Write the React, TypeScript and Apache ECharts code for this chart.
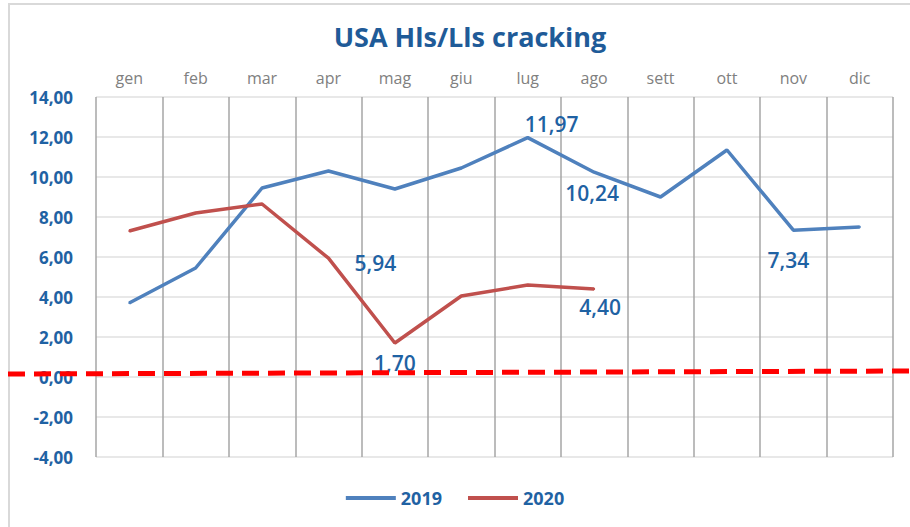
import React, { useEffect, useRef } from "react";
import * as echarts from "echarts";

const months = ["gen", "feb", "mar", "apr", "mag", "giu", "lug", "ago", "sett", "ott", "nov", "dic"];
const values2019 = [3.7, 5.45, 9.45, 10.3, 9.4, 10.45, 11.97, 10.24, 9.0, 11.35, 7.34, 7.5];
const values2020 = [7.3, 8.2, 8.65, 5.94, 1.7, 4.05, 4.6, 4.4];
// label index -> offset
const labels2019: Record<number, [number, number]> = { 6: [24, -14], 7: [-2, 21], 10: [-5, 30] };
const labels2020: Record<number, [number, number]> = { 3: [47, 5], 4: [0, 20], 7: [6, 18] };
const yTicks = { min: -4, max: 14, interval: 2 };
const refLineValues = [0.15, 0.3];

const FONT = "'Open Sans', 'Noto Sans', sans-serif";
const LABEL_BLUE = "#1f62a3";

function fmt(v: number) {
  return v.toFixed(2).replace(".", ",");
}

function buildData(vals: number[], lbls: Record<number, [number, number]>) {
  return vals.map((v, i) => {
    const off = lbls[i];
    if (!off) return { value: v };
    return {
      value: v,
      label: {
        show: true,
        position: "inside",
        offset: off,
        formatter: () => fmt(v),
        color: LABEL_BLUE,
        fontSize: 21,
        fontFamily: FONT,
        fontWeight: 600,
      },
    };
  });
}

export default function App() {
  const ref = useRef<HTMLDivElement>(null);
  useEffect(() => {
    document.body.style.margin = "0";
    if (!ref.current) return;
    const chart = echarts.init(ref.current, null, { renderer: "svg" });
    chart.setOption({
      animation: false,
      backgroundColor: "#ffffff",
      title: {
        text: "USA Hls/Lls cracking",
        left: 465,
        top: 18,
        textAlign: "center",
        textStyle: { color: "#1f5b98", fontSize: 27, fontWeight: "bold", fontFamily: FONT },
      },
      grid: { left: 96, right: 17, top: 97, bottom: 70 },
      legend: {
        bottom: 15,
        left: "center",
        icon: "rect",
        itemWidth: 50,
        itemHeight: 4,
        itemGap: 26,
        textStyle: { color: LABEL_BLUE, fontSize: 18, fontWeight: "bold", fontFamily: FONT },
        data: ["2019", "2020"],
      },
      xAxis: {
        type: "category",
        position: "top",
        data: months,
        boundaryGap: true,
        axisLine: { show: false },
        axisTick: { show: false },
        axisLabel: { color: "#808080", fontSize: 16, fontFamily: FONT, margin: 11 },
        splitLine: { show: true, lineStyle: { color: "#a6a6a6", width: 1.5 } },
      },
      yAxis: {
        type: "value",
        min: yTicks.min,
        max: yTicks.max,
        interval: yTicks.interval,
        axisLine: { show: false },
        axisTick: { show: false },
        axisLabel: {
          color: LABEL_BLUE,
          fontSize: 17,
          fontWeight: "bold",
          fontFamily: FONT,
          margin: 23,
          formatter: (v: number) => fmt(v),
        },
        splitLine: { show: true, lineStyle: { color: "#e0e0e0", width: 1.5 } },
      },
      series: [
        {
          name: "2019",
          type: "line",
          data: buildData(values2019, labels2019),
          symbol: "circle",
          symbolSize: 2,
          lineStyle: { color: "#4f81bd", width: 3.5 },
          itemStyle: { color: "#4f81bd" },
          z: 3,
        },
        {
          name: "2020",
          type: "line",
          data: buildData(values2020, labels2020),
          symbol: "circle",
          symbolSize: 2,
          lineStyle: { color: "#c0504d", width: 3.5 },
          itemStyle: { color: "#c0504d" },
          z: 4,
        },
      ],
    });
    const yL = chart.convertToPixel({ yAxisIndex: 0 }, refLineValues[0]) as number;
    const yR = chart.convertToPixel({ yAxisIndex: 0 }, refLineValues[1]) as number;
    chart.setOption({
      graphic: [
        {
          type: "rect",
          shape: { x: 9, y: 4, width: 920, height: 560 },
          style: { fill: "none", stroke: "#d9d9d9", lineWidth: 2 },
          silent: true,
        },
        {
          type: "line",
          shape: { x1: 8, y1: yL, x2: 910, y2: yR },
          style: { stroke: "#ff0000", lineWidth: 5, lineDash: [17, 9] },
          z: 100,
          silent: true,
        },
      ],
    });
    return () => chart.dispose();
  }, []);
  return <div ref={ref} style={{ width: 910, height: 527 }} />;
}
